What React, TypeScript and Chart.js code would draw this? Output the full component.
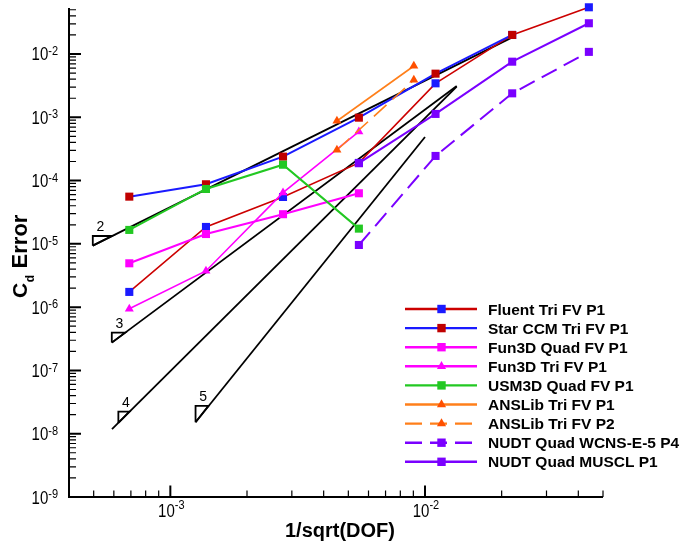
import React, { useEffect, useRef } from 'react';
import { Chart, registerables } from 'chart.js';

Chart.register(...registerables);

// ---- data (x = 1/sqrt(DOF), y = Cd error) ----
const gridX = [6.9e-4, 1.38e-3, 2.77e-3, 5.5e-3, 1.1e-2, 2.2e-2, 4.4e-2];
const anslibX = [4.51e-3, 9.04e-3];
const nudtX = [5.5e-3, 1.1e-2, 2.2e-2, 4.4e-2];

const fluentY = [1.74e-6, 1.85e-5, 5.5e-5, 1.9e-4, 3.44e-3, 2.0e-2, 5.47e-2];
const starCcmY = [5.57e-5, 8.74e-5, 2.39e-4, 9.86e-4, 4.89e-3, 2.0e-2];
const fun3dQuadY = [4.93e-6, 1.43e-5, 2.94e-5, 6.3e-5];
const fun3dTriY = [9.4e-7, 3.73e-6, 6.44e-5, 5.93e-4];
const usm3dY = [1.66e-5, 7.37e-5, 1.78e-4, 1.74e-5];
const anslibP1Y = [8.74e-4, 6.46e-3];
const anslibP2Y = [3.04e-4, 3.88e-3];
const nudtWcnsY = [9.6e-6, 2.45e-4, 2.39e-3, 1.08e-2];
const nudtMusclY = [1.88e-4, 1.13e-3, 7.56e-3, 3.06e-2];

// reference order-of-accuracy lines and their slope triangles
const slopeLabels = ['2', '3', '4', '5'];
const slopeLineX = [
  [4.96e-4, 2.18e-2],
  [5.89e-4, 1.332e-2],
  [5.9e-4, 1.332e-2],
  [1.256e-3, 1.0e-2],
];
const slopeLineY = [
  [9.37e-6, 1.8e-2],
  [2.75e-7, 3.12e-3],
  [1.18e-8, 3.05e-3],
  [1.52e-8, 4.87e-4],
];
const slopeTriX = [
  [4.96e-4, 4.96e-4, 5.9e-4, 4.96e-4],
  [5.89e-4, 5.89e-4, 6.65e-4, 5.89e-4],
  [6.25e-4, 6.25e-4, 6.91e-4, 6.25e-4],
  [1.256e-3, 1.256e-3, 1.411e-3, 1.256e-3],
];
const slopeTriY = [
  [9.37e-6, 1.33e-5, 1.33e-5, 9.37e-6],
  [2.75e-7, 3.95e-7, 3.95e-7, 2.75e-7],
  [1.48e-8, 2.23e-8, 2.23e-8, 1.48e-8],
  [1.52e-8, 2.75e-8, 2.75e-8, 1.52e-8],
];

// axes
const xMin = 4e-4;
const xMax = 5e-2;
const yMin = 1e-9;
const yMax = 5.33e-2;
const xMajorTicks = [1e-3, 1e-2];
const xMajorLabels = ['-3', '-2'];
const yMajorTicks = [1e-9, 1e-8, 1e-7, 1e-6, 1e-5, 1e-4, 1e-3, 1e-2];
const yMajorLabels = ['-9', '-8', '-7', '-6', '-5', '-4', '-3', '-2'];
const minorMultipliers = [2, 3, 4, 5, 6, 7, 8, 9];

const FONT = '"Liberation Sans", Arial, Helvetica, sans-serif';

const RED = '#CC0000';
const BLUE = '#1A1AFF';
const MAGENTA = '#FF00FF';
const GREEN = '#22C822';
const ORANGE = '#FF7F1A';
const ORANGE_MK = '#FF5000';
const VIOLET = '#7A00FF';

type Series = {
  label: string;
  xs: number[];
  ys: number[];
  line: string;
  marker: string;
  style: 'rect' | 'triangle';
  width: number;
  dash: number[];
};

const series: Series[] = [
  { label: 'Fluent Tri FV P1', xs: gridX, ys: fluentY, line: RED, marker: BLUE, style: 'rect', width: 1.6, dash: [] },
  { label: 'Star CCM Tri FV P1', xs: gridX, ys: starCcmY, line: BLUE, marker: '#C00000', style: 'rect', width: 2, dash: [] },
  { label: 'Fun3D Quad FV P1', xs: gridX, ys: fun3dQuadY, line: MAGENTA, marker: MAGENTA, style: 'rect', width: 2, dash: [] },
  { label: 'Fun3D Tri FV P1', xs: gridX, ys: fun3dTriY, line: MAGENTA, marker: MAGENTA, style: 'triangle', width: 1.6, dash: [] },
  { label: 'USM3D Quad FV P1', xs: gridX, ys: usm3dY, line: GREEN, marker: GREEN, style: 'rect', width: 2, dash: [] },
  { label: 'ANSLib Tri FV P1', xs: anslibX, ys: anslibP1Y, line: ORANGE, marker: ORANGE_MK, style: 'triangle', width: 1.6, dash: [] },
  { label: 'ANSLib Tri FV P2', xs: anslibX, ys: anslibP2Y, line: ORANGE, marker: ORANGE_MK, style: 'triangle', width: 1.6, dash: [17, 8] },
  { label: 'NUDT Quad WCNS-E-5 P4', xs: nudtX, ys: nudtWcnsY, line: VIOLET, marker: VIOLET, style: 'rect', width: 2, dash: [17, 8] },
  { label: 'NUDT Quad MUSCL P1', xs: nudtX, ys: nudtMusclY, line: VIOLET, marker: VIOLET, style: 'rect', width: 2, dash: [] },
];

const pts = (xs: number[], ys: number[]) => ys.map((y, i) => ({ x: xs[i], y }));

function scaledText(ctx: CanvasRenderingContext2D, text: string, x: number, y: number, font: string, align: CanvasTextAlign, sy: number) {
  ctx.save();
  ctx.translate(x, y);
  ctx.scale(1, sy);
  ctx.font = font;
  ctx.textAlign = align;
  ctx.textBaseline = 'alphabetic';
  ctx.fillText(text, 0, 0);
  ctx.restore();
}

function drawMarker(ctx: CanvasRenderingContext2D, style: string, x: number, y: number, color: string) {
  ctx.fillStyle = color;
  ctx.beginPath();
  if (style === 'rect') {
    ctx.rect(x - 4.2, y - 4.2, 8.4, 8.4);
  } else {
    const r = 5.3;
    ctx.moveTo(x, y - r);
    ctx.lineTo(x + r * 0.866, y + r * 0.5);
    ctx.lineTo(x - r * 0.866, y + r * 0.5);
    ctx.closePath();
  }
  ctx.fill();
}

const decorPlugin = {
  id: 'decor',
  afterDraw(chart: any) {
    const ctx: CanvasRenderingContext2D = chart.ctx;
    const a = chart.chartArea;
    const xs = chart.scales.x;
    const ys = chart.scales.y;
    ctx.save();
    ctx.fillStyle = '#000';
    ctx.strokeStyle = '#000';

    // ticks (inside)
    ctx.lineWidth = 1.2;
    ctx.beginPath();
    for (let d = -4; d <= -2; d++) {
      for (const m of minorMultipliers) {
        const v = m * Math.pow(10, d);
        if (v < xMin * 0.999 || v > xMax * 1.001) continue;
        const px = xs.getPixelForValue(v);
        ctx.moveTo(px, a.bottom);
        ctx.lineTo(px, a.bottom - 6.5);
      }
    }
    for (let d = -9; d <= -2; d++) {
      for (const m of minorMultipliers) {
        const v = m * Math.pow(10, d);
        if (v > yMax) continue;
        const py = ys.getPixelForValue(v);
        ctx.moveTo(a.left, py);
        ctx.lineTo(a.left + 7, py);
      }
    }
    ctx.stroke();
    ctx.lineWidth = 2;
    ctx.beginPath();
    for (const v of xMajorTicks) {
      const px = xs.getPixelForValue(v);
      ctx.moveTo(px, a.bottom);
      ctx.lineTo(px, a.bottom - 11.5);
    }
    for (const v of yMajorTicks) {
      const py = ys.getPixelForValue(v);
      ctx.moveTo(a.left, py);
      ctx.lineTo(a.left + 12, py);
    }
    ctx.stroke();

    // axis lines
    ctx.lineWidth = 2;
    ctx.beginPath();
    ctx.moveTo(a.left, a.top);
    ctx.lineTo(a.left, a.bottom);
    ctx.lineTo(a.right, a.bottom);
    ctx.stroke();

    // tick labels
    const fBase = `15px ${FONT}`;
    const fExp = `11px ${FONT}`;
    const sy = 1.2;
    yMajorTicks.forEach((v, i) => {
      const py = ys.getPixelForValue(v);
      ctx.font = fExp;
      const we = ctx.measureText(yMajorLabels[i]).width;
      const right = a.left - 11;
      scaledText(ctx, yMajorLabels[i], right, py + 1.2, fExp, 'right', sy);
      scaledText(ctx, '10', right - we, py + 6.5, fBase, 'right', sy);
    });
    xMajorTicks.forEach((v, i) => {
      const px = xs.getPixelForValue(v);
      ctx.font = fBase;
      const wb = ctx.measureText('10').width;
      ctx.font = fExp;
      const we = ctx.measureText(xMajorLabels[i]).width;
      const start = px - (wb + we) / 2 + 1;
      scaledText(ctx, '10', start, a.bottom + 19.5, fBase, 'left', sy);
      scaledText(ctx, xMajorLabels[i], start + wb, a.bottom + 11.5, fExp, 'left', sy);
    });

    // axis titles
    scaledText(ctx, '1/sqrt(DOF)', (a.left + a.right) / 2 + 4, 537, `bold 20px ${FONT}`, 'center', 1.0);

    ctx.save();
    ctx.translate(26.5, 298);
    ctx.rotate(-Math.PI / 2);
    ctx.textAlign = 'left';
    ctx.textBaseline = 'alphabetic';
    ctx.font = `bold 21px ${FONT}`;
    ctx.fillText('C', 0, 0);
    const wc = ctx.measureText('C').width;
    ctx.font = `bold 12px ${FONT}`;
    ctx.fillText('d', wc + 0.5, 7.5);
    const wd = ctx.measureText('d').width;
    ctx.font = `bold 22px ${FONT}`;
    ctx.fillText(' Error', wc + wd + 1, 0);
    ctx.restore();

    // slope labels
    ctx.font = `14px ${FONT}`;
    ctx.textAlign = 'center';
    ctx.textBaseline = 'alphabetic';
    slopeLabels.forEach((lab, i) => {
      const bx = xs.getPixelForValue(slopeTriX[i][1]);
      const by = ys.getPixelForValue(slopeTriY[i][1]);
      ctx.fillText(lab, bx + 7.5, by - 5);
    });

    // legend
    const lx0 = 405;
    const lx1 = 477;
    const tx = 488;
    const rowY0 = 309;
    const rowStep = 19.1;
    series.forEach((s, i) => {
      const y = rowY0 + i * rowStep;
      ctx.save();
      ctx.strokeStyle = s.line;
      ctx.lineWidth = 2.4;
      ctx.setLineDash(s.dash);
      ctx.beginPath();
      ctx.moveTo(lx0, y);
      ctx.lineTo(lx1, y);
      ctx.stroke();
      ctx.restore();
      drawMarker(ctx, s.style, (lx0 + lx1) / 2 + 0.5, y, s.marker);
      ctx.fillStyle = '#000';
      ctx.font = `bold 15.5px ${FONT}`;
      ctx.textAlign = 'left';
      ctx.fillText(s.label, tx, y + 5.5);
    });

    ctx.restore();
  },
};

export default function App() {
  const ref = useRef<HTMLCanvasElement | null>(null);

  useEffect(() => {
    document.body.style.margin = '0';
    const canvas = ref.current;
    if (!canvas) return;

    const refDatasets: any[] = [];
    slopeLineX.forEach((lx, i) => {
      refDatasets.push({
        data: pts(lx, slopeLineY[i]),
        borderColor: '#000',
        borderWidth: 1.8,
        pointRadius: 0,
        showLine: true,
        clip: false,
        order: 100,
      });
      refDatasets.push({
        data: pts(slopeTriX[i], slopeTriY[i]),
        borderColor: '#000',
        borderWidth: 1.8,
        pointRadius: 0,
        showLine: true,
        clip: false,
        order: 100,
      });
    });

    const seriesDatasets = series.map((s, i) => ({
      label: s.label,
      data: pts(s.xs, s.ys),
      borderColor: s.line,
      borderWidth: s.width,
      borderDash: s.dash,
      pointStyle: s.style,
      pointRadius: s.style === 'rect' ? 5.7 : 5.2,
      pointBackgroundColor: s.marker,
      pointBorderColor: s.marker,
      pointBorderWidth: 0,
      showLine: true,
      clip: false,
      order: 50 - i,
    }));

    const chart = new Chart(canvas, {
      type: 'scatter',
      data: { datasets: [...refDatasets, ...seriesDatasets] },
      options: {
        responsive: false,
        animation: false,
        events: [],
        devicePixelRatio: 1,
        layout: { padding: { left: 69, right: 82, top: 8, bottom: 46 } },
        plugins: { legend: { display: false }, tooltip: { enabled: false } },
        scales: {
          x: { type: 'logarithmic', min: xMin, max: xMax, bounds: 'data', display: false },
          y: { type: 'logarithmic', min: yMin, max: yMax, bounds: 'data', display: false },
        },
      },
      plugins: [decorPlugin],
    } as any);

    return () => chart.destroy();
  }, []);

  return (
    <div style={{ width: 685, height: 543, background: '#fff' }}>
      <canvas ref={ref} width={685} height={543} style={{ display: 'block', width: 685, height: 543 }} />
    </div>
  );
}
